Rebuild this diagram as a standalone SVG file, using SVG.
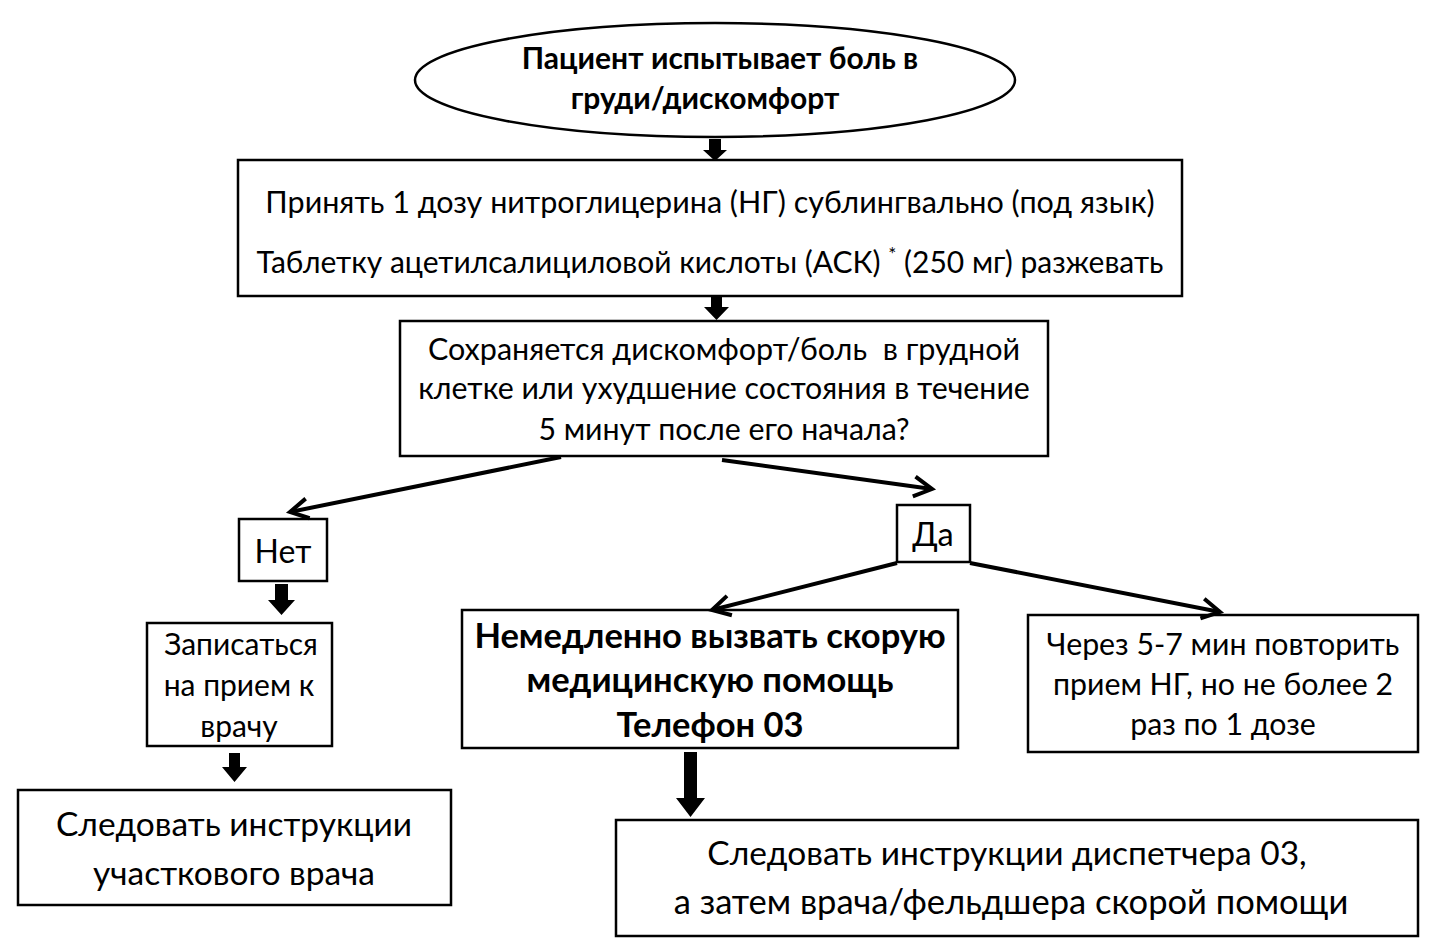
<svg xmlns="http://www.w3.org/2000/svg" width="1432" height="950" viewBox="0 0 1432 950">
<style>
.box{fill:#fff;stroke:#000;stroke-width:2.5}
.t{font-family:Lato,"Liberation Sans",sans-serif;fill:#000;text-anchor:middle}
.b{font-weight:bold}
.line{stroke:#000;stroke-width:4;fill:none}
.blk{fill:#000}
</style>
<defs>
<marker id="open" markerUnits="userSpaceOnUse" markerWidth="30" markerHeight="30" refX="22" refY="12" orient="auto" viewBox="0 0 30 24">
<path d="M4,2 L22,12 L4,22" fill="none" stroke="#000" stroke-width="4"/>
</marker>
</defs>
<rect width="1432" height="950" fill="#fff"/>
<g id="start">
<ellipse class="box" cx="715" cy="80" rx="300" ry="57"/>
<text class="t b" x="720" y="69" font-size="30">Пациент испытывает боль в</text>
<text class="t b" x="705" y="109" font-size="30">груди/дискомфорт</text>
</g>
<g id="take">
<rect class="box" x="238" y="160" width="944" height="136"/>
<text class="t" x="710" y="213" font-size="30.5">Принять 1 дозу нитроглицерина (НГ) сублингвально (под язык)</text>
<text class="t" x="710" y="273" font-size="30">Таблетку ацетилсалициловой кислоты (АСК) <tspan dy="-12" font-size="19">*</tspan><tspan dy="12"> (250 мг) разжевать</tspan></text>
</g>
<g id="question">
<rect class="box" x="400" y="321" width="648" height="135"/>
<text class="t" x="724" y="360" font-size="30.5" xml:space="preserve">Сохраняется дискомфорт/боль  в грудной</text>
<text class="t" x="724" y="399" font-size="30.3">клетке или ухудшение состояния в течение</text>
<text class="t" x="724" y="440" font-size="30.3">5 минут после его начала?</text>
</g>
<g id="no">
<rect class="box" x="239" y="519" width="88" height="62"/>
<text class="t" x="283" y="563" font-size="32">Нет</text>
</g>
<g id="yes">
<rect class="box" x="897" y="505" width="73" height="57"/>
<text class="t" x="933" y="546" font-size="32.5">Да</text>
</g>
<g id="appoint">
<rect class="box" x="147" y="623" width="185" height="123"/>
<text class="t" x="241" y="655" font-size="30">Записаться</text>
<text class="t" x="239" y="696" font-size="30">на прием к</text>
<text class="t" x="239" y="737" font-size="30">врачу</text>
</g>
<g id="call">
<rect class="box" x="462" y="610" width="496" height="138"/>
<text class="t b" x="710" y="648" font-size="34.5">Немедленно вызвать скорую</text>
<text class="t b" x="710" y="692" font-size="34.5">медицинскую помощь</text>
<text class="t b" x="710" y="737" font-size="34.5">Телефон 03</text>
</g>
<g id="repeat">
<rect class="box" x="1028" y="615" width="390" height="137"/>
<text class="t" x="1223" y="655" font-size="30.3">Через 5-7 мин повторить</text>
<text class="t" x="1223" y="695" font-size="30.3">прием НГ, но не более 2</text>
<text class="t" x="1223" y="735" font-size="30.3">раз по 1 дозе</text>
</g>
<g id="follow-local">
<rect class="box" x="18" y="790" width="433" height="115"/>
<text class="t" x="234" y="836" font-size="33.5">Следовать инструкции</text>
<text class="t" x="234" y="885" font-size="33.5">участкового врача</text>
</g>
<g id="follow-dispatch">
<rect class="box" x="616" y="820" width="802" height="116"/>
<text class="t" x="1007" y="865" font-size="33.5">Следовать инструкции диспетчера 03,</text>
<text class="t" x="1011" y="914" font-size="34.5">а затем врача/фельдшера скорой помощи</text>
</g>
<g id="connectors">
<path class="blk" d="M709,139 H721 V150 H727 L715,161 L703,150 H709 Z"/>
<path class="blk" d="M711,297 H722 V307 H729 L716.5,320 L704,307 H711 Z"/>
<path class="blk" d="M275,584 H288 V600 H295 L281.5,615 L268,600 H275 Z"/>
<path class="blk" d="M229,753 H240 V767 H247 L234.5,782 L222,767 H229 Z"/>
<path class="blk" d="M684,752 H697 V798 H705 L690.5,817 L676,798 H684 Z"/>
<line class="line" x1="561" y1="457" x2="290" y2="512" marker-end="url(#open)"/>
<line class="line" x1="722" y1="460" x2="932" y2="489" marker-end="url(#open)"/>
<line class="line" x1="897" y1="563" x2="712" y2="610" marker-end="url(#open)"/>
<line class="line" x1="970" y1="563" x2="1220" y2="612" marker-end="url(#open)"/>
</g>
</svg>
